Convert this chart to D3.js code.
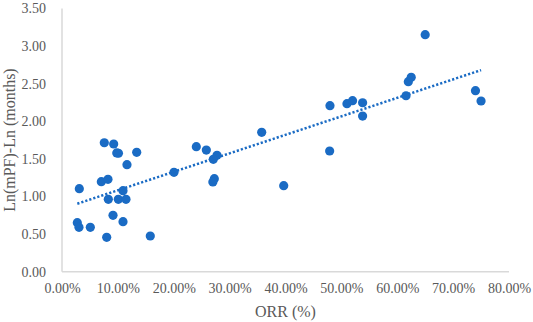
<!DOCTYPE html>
<html>
<head>
<meta charset="utf-8">
<script src="https://cdn.jsdelivr.net/npm/d3@7"></script>
<style>
  html, body { margin: 0; padding: 0; background: #fff; }
  svg { display: block; }
</style>
</head>
<body>
<svg id="chart" width="533" height="322"></svg>
<script>
// ORR (%) values
const orr = [7.57, 9.25, 9.8, 10.1, 13.37, 11.63, 3.1, 7.04, 8.23, 10.92, 8.29, 10.08, 11.45,
  2.74, 3.04, 5.07, 9.13, 10.92, 8.0, 15.8,
  20.04, 24.04, 25.83, 27.74, 27.08, 27.26, 27.0, 35.74, 39.68,
  47.96, 47.9, 51.0, 52.0, 53.8, 53.8, 61.57,
  65.0, 61.98, 62.5, 74.0, 75.0];
// Ln(mPF)-Ln (months) values
const lnDiff = [1.715, 1.698, 1.58, 1.575, 1.588, 1.423, 1.104, 1.197, 1.229, 1.077, 0.963, 0.963, 0.963,
  0.652, 0.59, 0.59, 0.75, 0.665, 0.457, 0.475,
  1.321, 1.662, 1.618, 1.548, 1.495, 1.237, 1.193, 1.854, 1.144,
  2.208, 1.605, 2.234, 2.274, 2.247, 2.07, 2.34,
  3.152, 2.527, 2.585, 2.407, 2.27];
const xTicks = [0, 10, 20, 30, 40, 50, 60, 70, 80];
const yTicks = [0, 0.5, 1, 1.5, 2, 2.5, 3, 3.5];

const svg = d3.select("#chart");
const x = d3.scaleLinear().domain([0, 80]).range([62, 509]);
const y = d3.scaleLinear().domain([0, 3.5]).range([271.7, 8.5]);
const textColor = "#595959";
const font = "'Liberation Serif', 'Times New Roman', serif";
const blue = "#1a6bc4";

// axes lines
svg.append("line").attr("x1", x(0)).attr("x2", x(0)).attr("y1", y(3.5)).attr("y2", y(0))
  .attr("stroke", "#d9d9d9").attr("stroke-width", 1.5);
svg.append("line").attr("x1", x(0)).attr("x2", x(80)).attr("y1", y(0)).attr("y2", y(0))
  .attr("stroke", "#d9d9d9").attr("stroke-width", 1.5);

// y tick labels
const yAxis = d3.axisLeft(y).tickValues(yTicks).tickFormat(d3.format(".2f")).tickSize(0).tickPadding(16);
const gy = svg.append("g").attr("transform", `translate(${x(0)},0)`).call(yAxis);
gy.select(".domain").remove();
gy.selectAll("text").attr("fill", textColor).style("font-family", font).style("font-size", "14px");

// x tick labels
const xAxis = d3.axisBottom(x).tickValues(xTicks).tickFormat(d => d.toFixed(2) + "%").tickSize(0).tickPadding(11);
const gx = svg.append("g").attr("transform", `translate(0,${y(0)})`).call(xAxis);
gx.select(".domain").remove();
gx.selectAll("text").attr("fill", textColor).style("font-family", font).style("font-size", "14px");

// axis titles
svg.append("text").attr("x", (x(0) + x(80)) / 2).attr("y", 317).attr("text-anchor", "middle")
  .attr("fill", textColor).style("font-family", font).style("font-size", "16px").text("ORR (%)");
svg.append("text").attr("transform", `translate(15,${(y(0) + y(3.5)) / 2}) rotate(-90)`)
  .attr("text-anchor", "middle").attr("fill", textColor).style("font-family", font).style("font-size", "16px")
  .text("Ln(mPF)-Ln (months)");

// linear regression trendline
const n = orr.length;
const mx = d3.mean(orr), my = d3.mean(lnDiff);
let sxy = 0, sxx = 0;
for (let i = 0; i < n; i++) { sxy += (orr[i] - mx) * (lnDiff[i] - my); sxx += (orr[i] - mx) ** 2; }
const slope = sxy / sxx, icpt = my - slope * mx;
const [xmin, xmax] = d3.extent(orr);

// points
svg.append("g").selectAll("circle").data(orr).join("circle")
  .attr("cx", d => x(d)).attr("cy", (d, i) => y(lnDiff[i])).attr("r", 4.6).attr("fill", blue);

svg.append("line").attr("x1", x(xmin)).attr("y1", y(icpt + slope * xmin))
  .attr("x2", x(xmax)).attr("y2", y(icpt + slope * xmax))
  .attr("stroke", blue).attr("stroke-width", 2.5).attr("stroke-dasharray", "2.2,2");
</script>
</body>
</html>
